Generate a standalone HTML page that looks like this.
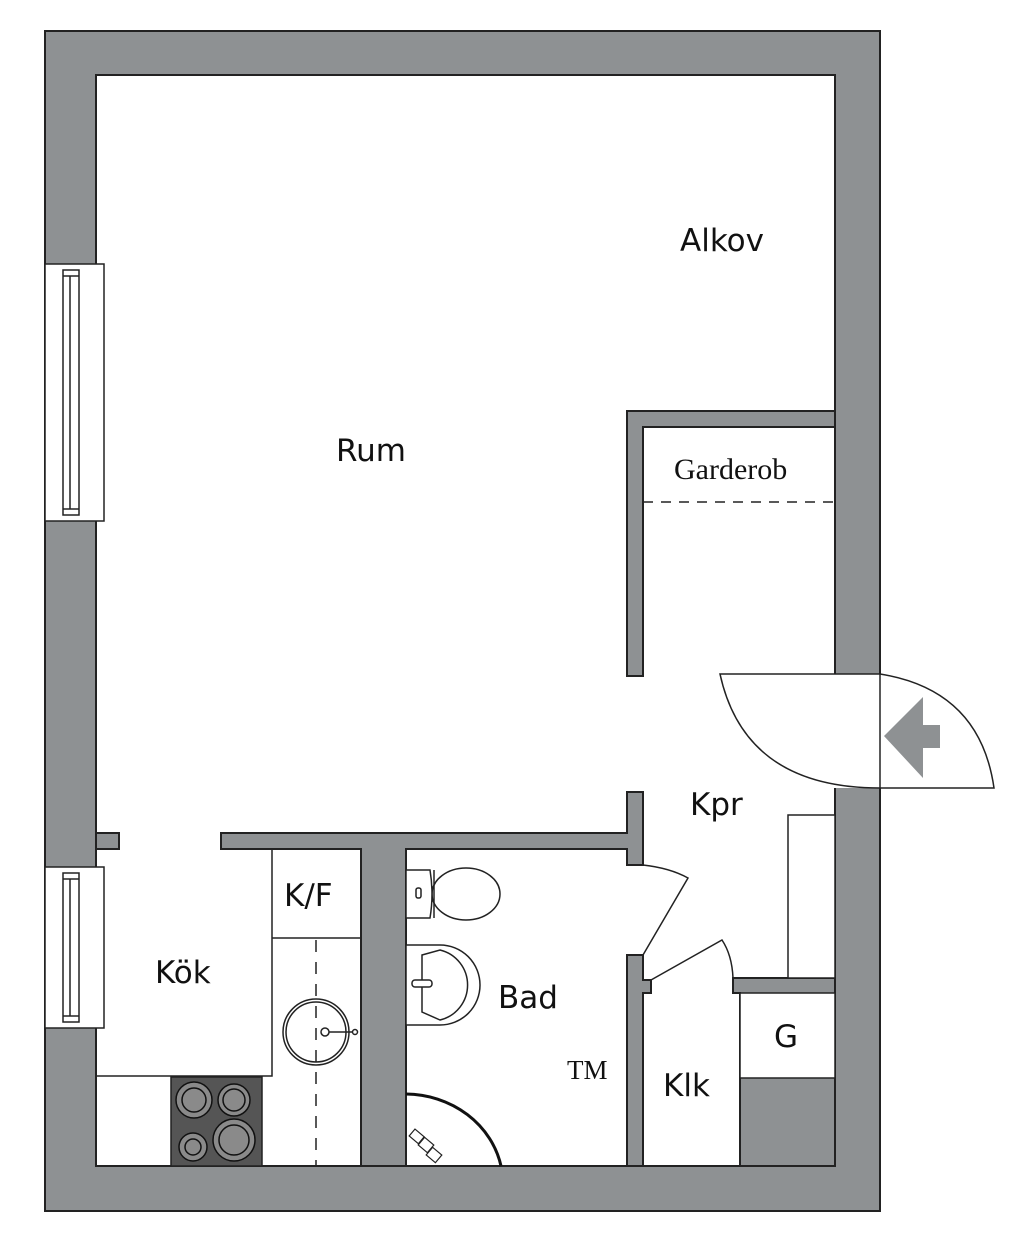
<!DOCTYPE html>
<html><head><meta charset="utf-8"><style>
html,body{margin:0;padding:0;background:#fff;}
svg{display:block;}
text{font-family:"DejaVu Sans","Liberation Sans",sans-serif;fill:#111;}
</style></head><body>
<svg width="1024" height="1245" viewBox="0 0 1024 1245" xmlns="http://www.w3.org/2000/svg">
<g stroke="#222" stroke-width="2">
<rect x="45" y="31" width="835" height="1180" fill="#8e9193"/>
<rect x="96" y="75" width="739" height="1091" fill="#fff"/>
</g>
<g stroke="#222" stroke-width="1.5" fill="#fff">
<rect x="45" y="264" width="59" height="257"/>
<rect x="63" y="270" width="16" height="245"/>
<line x1="70" y1="276" x2="70" y2="509"/>
<line x1="63" y1="276" x2="79" y2="276"/><line x1="63" y1="509" x2="79" y2="509"/>
<rect x="45" y="867" width="59" height="161"/>
<rect x="63" y="873" width="16" height="149"/>
<line x1="70" y1="879" x2="70" y2="1016"/>
<line x1="63" y1="879" x2="79" y2="879"/><line x1="63" y1="1016" x2="79" y2="1016"/>
</g>
<rect x="834" y="675" width="47" height="113" fill="#fff"/>
<g fill="#8e9193" stroke="#222" stroke-width="2">
<path d="M627 411 H835 V427 H643 V676 H627 Z"/>
<path d="M96 833 H119 V849 H96 Z"/>
<path d="M221 833 H627 V792 H643 V865 H627 V849 H406 V1166 H361 V849 H221 Z"/>
<path d="M627 955 H643 V980 H651 V993 H643 V1166 H627 Z"/>
<path d="M733 978 H835 V1166 H740 V993 H733 Z"/>
</g>
<rect x="97" y="1165" width="737" height="2" fill="#222"/>
<line x1="643" y1="502" x2="835" y2="502" stroke="#222" stroke-width="1.5" stroke-dasharray="10,8"/>
<g stroke="#222" stroke-width="1.5" fill="#fff">
<path d="M720 674 H880 Q980 690 994 788 H880 Q745 788 720 674 Z"/>
<line x1="880" y1="674" x2="880" y2="788"/>
</g>
<path d="M884 736 L923 697 V725 H940 V748 H923 V778 Z" fill="#8e9193"/>
<rect x="788" y="815" width="47" height="163" fill="#fff" stroke="#222" stroke-width="1.5"/>
<rect x="740" y="993" width="95" height="85" fill="#fff" stroke="#222" stroke-width="1.5"/>
<path d="M643 865 Q670 868 688 878 L643 955" fill="none" stroke="#222" stroke-width="1.5"/>
<path d="M651 980 L722 940 Q732 955 733 978" fill="none" stroke="#222" stroke-width="1.5"/>
<g stroke="#222" stroke-width="1.5" fill="none">
<path d="M272 849 V1076 H96"/>
<line x1="272" y1="938" x2="361" y2="938"/>
<line x1="316" y1="940" x2="316" y2="1166" stroke-dasharray="12,10"/>
<circle cx="316" cy="1032" r="33"/>
<circle cx="316" cy="1032" r="30"/>
<circle cx="325" cy="1032" r="4"/>
<line x1="329" y1="1032" x2="352" y2="1032"/>
<circle cx="355" cy="1032" r="2.5"/>
</g>
<rect x="171" y="1077" width="91" height="89" fill="#555" stroke="#222" stroke-width="1.5"/>
<g stroke="#111" stroke-width="1.5" fill="#8a8a8a">
<circle cx="194" cy="1100" r="18"/><circle cx="194" cy="1100" r="12"/>
<circle cx="234" cy="1100" r="16"/><circle cx="234" cy="1100" r="11"/>
<circle cx="193" cy="1147" r="14"/><circle cx="193" cy="1147" r="8"/>
<circle cx="234" cy="1140" r="21"/><circle cx="234" cy="1140" r="15"/>
</g>
<g stroke="#222" stroke-width="1.5" fill="#fff">
<ellipse cx="466" cy="894" rx="34" ry="26"/>
<path d="M406 870 H430 Q434 894 430 918 H406 Z"/>
<line x1="434" y1="870" x2="434" y2="918"/>
<rect x="416" y="888" width="5" height="10" rx="2"/>
<path d="M406 945 H440 A40 40 0 0 1 440 1025 H406 Z"/>
<path d="M422 955 L440 950 A36 36 0 0 1 440 1020 L422 1012 Z"/>
<rect x="412" y="980" width="20" height="7" rx="3"/>
</g>
<path d="M406 1094 A98 90 0 0 1 501 1166" fill="none" stroke="#111" stroke-width="3"/>
<g stroke="#222" stroke-width="1.2" fill="#fff">
<rect x="411" y="1132" width="12" height="9" transform="rotate(40 417 1136)"/>
<rect x="420" y="1140" width="12" height="10" transform="rotate(40 426 1145)"/>
<rect x="428" y="1150" width="12" height="10" transform="rotate(40 434 1155)"/>
</g>
<text x="680" y="251" font-size="31">Alkov</text>
<text x="336" y="461" font-size="31">Rum</text>
<text x="674" y="479" font-size="30" style="font-family:'Liberation Serif',serif">Garderob</text>
<text x="690" y="815" font-size="31">Kpr</text>
<text x="284" y="906" font-size="31">K/F</text>
<text x="155" y="983" font-size="31">Kök</text>
<text x="498" y="1008" font-size="31">Bad</text>
<text x="567" y="1079" font-size="27" style="font-family:'Liberation Serif',serif">TM</text>
<text x="663" y="1096" font-size="31">Klk</text>
<text x="774" y="1047" font-size="31">G</text>
</svg>
</body></html>
